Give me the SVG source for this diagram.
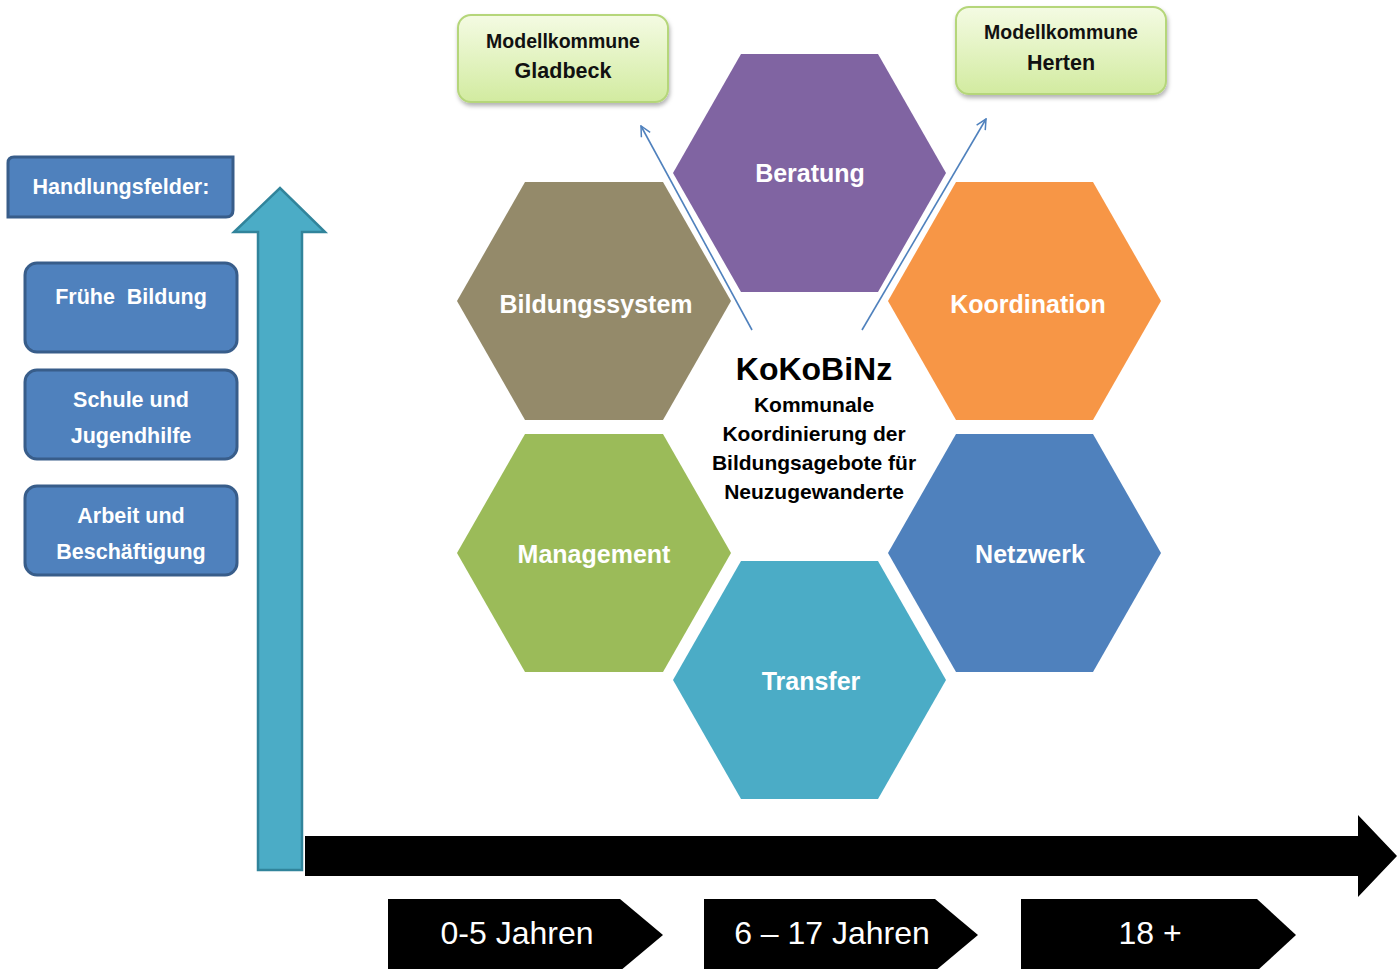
<svg xmlns="http://www.w3.org/2000/svg" width="1397" height="969" viewBox="0 0 1397 969">
<defs>
<linearGradient id="gGreen" x1="0" y1="0" x2="0" y2="1">
<stop offset="0" stop-color="#F4FBE3"/>
<stop offset="1" stop-color="#D2EBA0"/>
</linearGradient>
<filter id="sh" x="-10%" y="-10%" width="120%" height="130%">
<feDropShadow dx="1" dy="3" stdDeviation="2" flood-color="#000" flood-opacity="0.3"/>
</filter>
<marker id="arr" viewBox="0 0 12 12" refX="11" refY="6" markerWidth="12" markerHeight="12" markerUnits="userSpaceOnUse" orient="auto">
<path d="M1,1 L11,6 L1,11" fill="none" stroke="#4F81BD" stroke-width="1.5"/>
</marker>
</defs>
<style>
.hf{fill:#4F81BD;stroke:#385D8A;stroke-width:3}
.hft{font-family:"Liberation Sans",Arial,sans-serif;font-weight:bold;font-size:21.5px;fill:#fff;text-anchor:middle}
.green{fill:url(#gGreen);stroke:#B5D67A;stroke-width:2}
.gt{font-family:"Liberation Sans",Arial,sans-serif;font-weight:bold;fill:#111;text-anchor:middle}
.hex{stroke:none}
.hx{font-family:"Liberation Sans",Arial,sans-serif;font-weight:bold;font-size:25px;fill:#fff;text-anchor:middle}
.ct{font-family:"Liberation Sans",Arial,sans-serif;font-weight:bold;fill:#000;text-anchor:middle}
.age{fill:#000}
.at{font-family:"Liberation Sans",Arial,sans-serif;font-size:32px;fill:#fff;text-anchor:middle}
.conn{fill:none;stroke:#4F81BD;stroke-width:1.6}
</style>
<rect width="1397" height="969" fill="#fff"/>

<g id="axis-y">
<path d="M258,870 L258,232 L234,232 L280,188 L325,232 L302,232 L302,870 Z" fill="#4BACC6" stroke="#31849B" stroke-width="2.5"/>
</g>
<g id="axis-x">
<path d="M305,836 L1358,836 L1358,815 L1397,856 L1358,897 L1358,876 L305,876 Z" fill="#000"/>
</g>

<g id="handlungsfelder">
<path d="M14,157 L233,157 L233,210 Q233,217 226,217 L8,217 L8,163 Q8,157 14,157 Z" class="hf"/>
<text x="121" y="194" class="hft" font-size="22">Handlungsfelder:</text>
</g>
<g id="fruehe-bildung">
<rect x="25" y="263" width="212" height="89" rx="12" class="hf"/>
<text x="131" y="304" class="hft" xml:space="preserve">Frühe  Bildung</text>
</g>
<g id="schule">
<rect x="25" y="370" width="212" height="89" rx="12" class="hf"/>
<text x="131" y="407" class="hft">Schule und</text>
<text x="131" y="443" class="hft">Jugendhilfe</text>
</g>
<g id="arbeit">
<rect x="25" y="486" width="212" height="89" rx="12" class="hf"/>
<text x="131" y="523" class="hft">Arbeit und</text>
<text x="131" y="559" class="hft">Beschäftigung</text>
</g>

<g id="gladbeck">
<rect x="458" y="15" width="210" height="87" rx="13" class="green" filter="url(#sh)"/>
<text x="563" y="48" class="gt" font-size="19.5">Modellkommune</text>
<text x="563" y="78" class="gt" font-size="21.5">Gladbeck</text>
</g>
<g id="herten">
<rect x="956" y="7" width="210" height="87" rx="13" class="green" filter="url(#sh)"/>
<text x="1061" y="39" class="gt" font-size="19.5">Modellkommune</text>
<text x="1061" y="70" class="gt" font-size="21.5">Herten</text>
</g>

<g id="beratung">
<polygon class="hex" fill="#8064A2" points="673,173 741,54 878,54 946,173 878,292 741,292"/>
<text x="810" y="182" class="hx">Beratung</text>
</g>
<g id="bildungssystem">
<polygon class="hex" fill="#948A6A" points="457,301 525,182 663,182 731,301 663,420 525,420"/>
<text x="596" y="313" class="hx">Bildungssystem</text>
</g>
<g id="koordination">
<polygon class="hex" fill="#F79646" points="888,301 956,182 1093,182 1161,301 1093,420 956,420"/>
<text x="1028" y="313" class="hx">Koordination</text>
</g>
<g id="management">
<polygon class="hex" fill="#9BBB59" points="457,553 525,434 663,434 731,553 663,672 525,672"/>
<text x="594" y="563" class="hx">Management</text>
</g>
<g id="netzwerk">
<polygon class="hex" fill="#4F81BD" points="888,553 956,434 1093,434 1161,553 1093,672 956,672"/>
<text x="1030" y="563" class="hx">Netzwerk</text>
</g>
<g id="transfer">
<polygon class="hex" fill="#4BACC6" points="673,680 741,561 878,561 946,680 878,799 741,799"/>
<text x="811" y="690" class="hx">Transfer</text>
</g>

<g id="center">
<text x="814" y="380" class="ct" font-size="32">KoKoBiNz</text>
<text x="814" y="412" class="ct" font-size="21">Kommunale</text>
<text x="814" y="441" class="ct" font-size="21">Koordinierung der</text>
<text x="814" y="470" class="ct" font-size="21">Bildungsagebote für</text>
<text x="814" y="499" class="ct" font-size="21">Neuzugewanderte</text>
</g>

<g id="connectors">
<line class="conn" x1="752" y1="330" x2="641" y2="126" marker-end="url(#arr)"/>
<line class="conn" x1="862" y1="330" x2="986" y2="119" marker-end="url(#arr)"/>
</g>

<g id="age-0-5">
<polygon class="age" points="388,899 620,899 663,935 620,971 388,971"/>
<text x="517" y="944" class="at">0-5 Jahren</text>
</g>
<g id="age-6-17">
<polygon class="age" points="704,899 935,899 978,935 935,971 704,971"/>
<text x="832" y="944" class="at">6 – 17 Jahren</text>
</g>
<g id="age-18">
<polygon class="age" points="1021,899 1257,899 1296,935 1257,971 1021,971"/>
<text x="1150" y="944" class="at">18 +</text>
</g>
</svg>
